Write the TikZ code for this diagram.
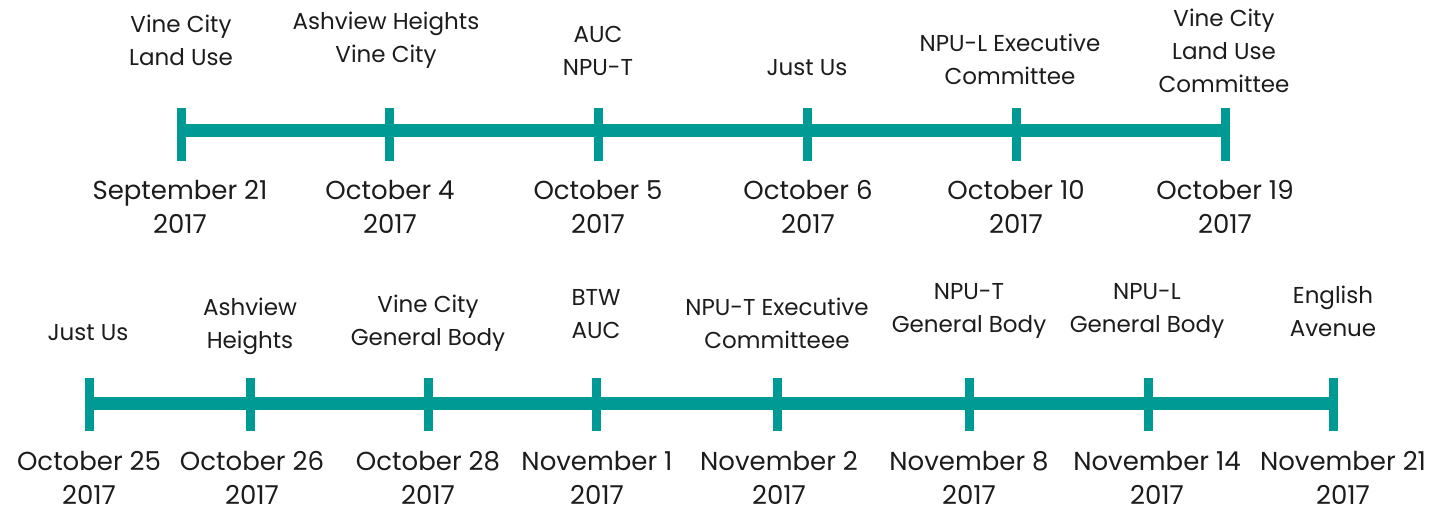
\documentclass[tikz,border=0pt]{standalone}
\usepackage{fontspec}
\setmainfont{Poppins}
\definecolor{teal}{HTML}{009A94}
\definecolor{ink}{HTML}{1C1C1C}
\begin{document}
\begin{tikzpicture}[x=1pt,y=-1pt,
  tickmark/.style={fill=teal,inner sep=0pt,minimum width=9pt,minimum height=53pt,draw=none},
  axis/.style={draw=teal,line width=13pt},
  lbl/.style={text=ink,align=center,inner sep=0pt,font=\fontsize{23}{33}\selectfont},
  datelbl/.style={lbl,font=\fontsize{26}{34}\selectfont}]
  \fill[white] (0,0) rectangle (1434,512);
  \useasboundingbox (0,0) rectangle (1434,512);

  % upper timeline
  \foreach \n/\x in {1/181,2/389,3/598,4/807,5/1016,6/1225}
    \node[tickmark] (t\n) at (\x,134.5) {};
  \draw[axis] ([yshift=4pt]t1.center) -- ([yshift=4pt]t6.center);

  \node[lbl] (t1l) at (181,40.5) {Vine City\\Land Use};
  \node[lbl] (t2l) at (386,40.5) {Ashview Heights\\Vine City};
  \node[lbl] (t3l) at (598,51) {AUC\\NPU-T};
  \node[lbl] (t4l) at (807,68) {Just Us};
  \node[lbl] (t5l) at (1010,59.5) {NPU-L Executive\\Committee};
  \node[lbl] (t6l) at (1224,50.5) {Vine City\\Land Use\\Committee};

  \node[datelbl] (t1d) at (180,207) {September 21\\2017};
  \node[datelbl] (t2d) at (390,207) {October 4\\2017};
  \node[datelbl] (t3d) at (598,207) {October 5\\2017};
  \node[datelbl] (t4d) at (808,207) {October 6\\2017};
  \node[datelbl] (t5d) at (1016,207) {October 10\\2017};
  \node[datelbl] (t6d) at (1225,207) {October 19\\2017};

  % lower timeline
  \foreach \n/\x in {1/89,2/250,3/428,4/596,5/777,6/969,7/1148,8/1333}
    \node[tickmark] (b\n) at (\x,404) {};
  \draw[axis] ([yshift=1pt]b1.center) -- ([yshift=1pt]b8.center);

  \node[lbl] (b1l) at (88,333) {Just Us};
  \node[lbl] (b2l) at (250,326.5) {Ashview\\Heights};
  \node[lbl] (b3l) at (428,323) {Vine City\\General Body};
  \node[lbl] (b4l) at (596,314.5) {BTW\\AUC};
  \node[lbl] (b5l) at (777,323) {NPU-T Executive\\Committeee};
  \node[lbl] (b6l) at (969,311) {NPU-T\\General Body};
  \node[lbl] (b7l) at (1147,311) {NPU-L\\General Body};
  \node[lbl] (b8l) at (1333,311) {English\\Avenue};

  \node[datelbl] (b1d) at (89,477.5) {October 25\\2017};
  \node[datelbl] (b2d) at (252,477.5) {October 26\\2017};
  \node[datelbl] (b3d) at (428,477.5) {October 28\\2017};
  \node[datelbl] (b4d) at (597,477.5) {November 1\\2017};
  \node[datelbl] (b5d) at (779,477.5) {November 2\\2017};
  \node[datelbl] (b6d) at (969,477.5) {November 8\\2017};
  \node[datelbl] (b7d) at (1157,477.5) {November 14\\2017};
  \node[datelbl] (b8d) at (1343,477.5) {November 21\\2017};
\end{tikzpicture}
\end{document}
